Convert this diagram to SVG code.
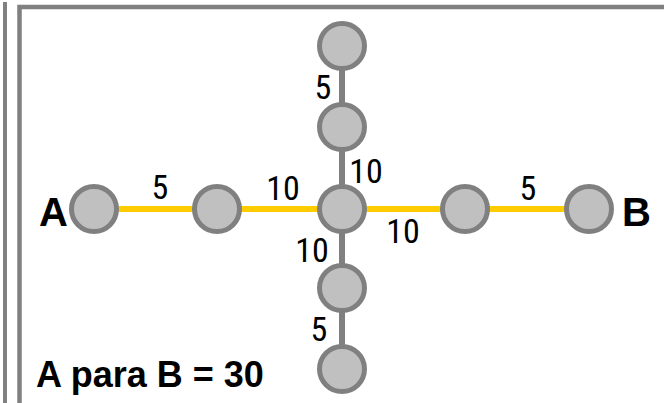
<svg xmlns="http://www.w3.org/2000/svg" width="664" height="403" viewBox="0 0 664 403">
<style>
.node{fill:#C0C0C0;stroke:#808080;stroke-width:5}
.gray{stroke:#808080;stroke-width:6;fill:none}
.gold{stroke:#FFCC00;stroke-width:6;fill:none}
.w{font-family:"Liberation Sans Narrow","Roboto Condensed","DejaVu Sans Condensed","Liberation Sans",sans-serif;font-size:34px;fill:#000;text-anchor:middle}
.b{font-family:"Liberation Sans",Arial,sans-serif;font-weight:bold;fill:#000}
</style>
<rect x="0" y="0" width="664" height="403" fill="#fff"/>
<rect x="3" y="2" width="4" height="410" fill="#808080"/>
<rect x="19.5" y="7" width="700" height="420" fill="none" stroke="#808080" stroke-width="4.5"/>
<g id="connectors">
<line class="gold" x1="94" y1="209" x2="217" y2="209"/>
<line class="gold" x1="217" y1="209" x2="342" y2="209"/>
<line class="gold" x1="342" y1="209" x2="465" y2="209"/>
<line class="gold" x1="465" y1="209" x2="589" y2="209"/>
<line class="gray" x1="342" y1="46" x2="342" y2="127"/>
<line class="gray" x1="342" y1="127" x2="342" y2="209"/>
<line class="gray" x1="342" y1="209" x2="342" y2="288"/>
<line class="gray" x1="342" y1="288" x2="342" y2="369"/>
</g>
<g id="labels">
<text class="w" x="160" y="199">5</text>
<text class="w" x="283" y="200">10</text>
<text class="w" x="323" y="99">5</text>
<text class="w" x="366" y="183">10</text>
<text class="w" x="403" y="243">10</text>
<text class="w" x="312" y="262">10</text>
<text class="w" x="528" y="200">5</text>
<text class="w" x="319" y="341">5</text>
</g>
<g id="nodeA"><circle class="node" cx="94" cy="209" r="22.5"/><text class="b" x="68" y="226" font-size="40" text-anchor="end">A</text></g>
<g id="n2"><circle class="node" cx="217" cy="209" r="22.5"/></g>
<g id="center"><circle class="node" cx="342" cy="209" r="22.5"/></g>
<g id="n4"><circle class="node" cx="465" cy="209" r="22.5"/></g>
<g id="nodeB"><circle class="node" cx="589" cy="209" r="22.5"/><text class="b" x="622" y="226" font-size="40">B</text></g>
<g id="top1"><circle class="node" cx="342" cy="46" r="22.5"/></g>
<g id="top2"><circle class="node" cx="342" cy="127" r="22.5"/></g>
<g id="bot1"><circle class="node" cx="342" cy="288" r="22.5"/></g>
<g id="bot2"><circle class="node" cx="342" cy="369" r="22.5"/></g>
<text class="b" x="36" y="387" font-size="36">A para B = 30</text>
</svg>
